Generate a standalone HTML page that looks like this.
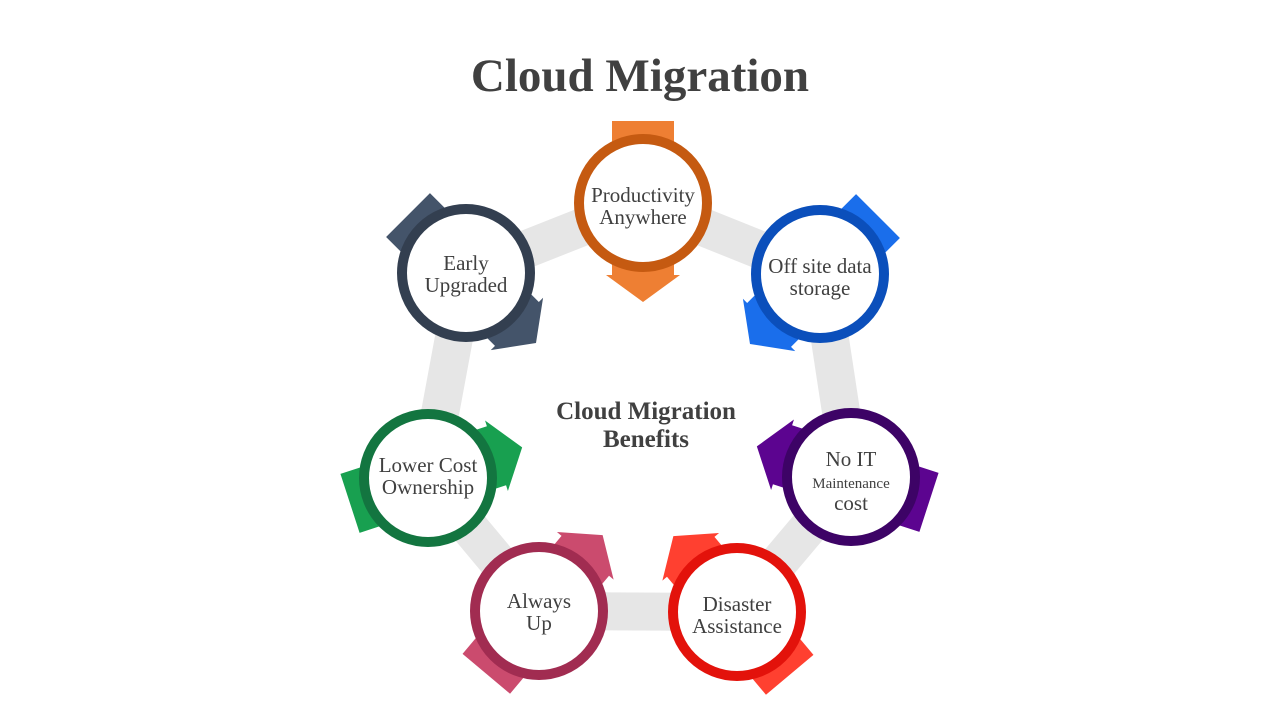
<!DOCTYPE html>
<html><head><meta charset="utf-8"><style>
html,body{margin:0;padding:0;background:#fff;width:1280px;height:720px;overflow:hidden}
</style></head><body>
<svg width="1280" height="720" viewBox="0 0 1280 720" xmlns="http://www.w3.org/2000/svg">
<defs>
<polygon id="arr" points="-82,-31 72,-31 72,-37 99,0 72,37 72,31 -82,31"/>
</defs>
<text x="640" y="91" text-anchor="middle" font-family="Liberation Serif, serif" font-weight="bold" font-size="47" fill="#404040">Cloud Migration</text>
<polygon points="643,203 820,274 851,477 737,612 539,611 428,478 466,273" fill="none" stroke="#E6E6E6" stroke-width="38" stroke-linejoin="round"/>
<text x="646" y="419" text-anchor="middle" font-family="Liberation Serif, serif" font-weight="bold" font-size="25" fill="#404040">Cloud Migration</text>
<text x="646" y="447" text-anchor="middle" font-family="Liberation Serif, serif" font-weight="bold" font-size="25" fill="#404040">Benefits</text>

<g font-family="Liberation Serif, serif" font-size="21" fill="#404040" text-anchor="middle">
<g transform="translate(643,203)"><use href="#arr" transform="rotate(90)" fill="#EE7F33"/><circle r="64" fill="#fff" stroke="#C55A11" stroke-width="10"/><text y="-1">Productivity</text><text y="21">Anywhere</text></g>
<g transform="translate(820,274)"><use href="#arr" transform="rotate(135)" fill="#1A6EEB"/><circle r="64" fill="#fff" stroke="#0B4FBB" stroke-width="10"/><text y="-1">Off site data</text><text y="21">storage</text></g>
<g transform="translate(851,477)"><use href="#arr" transform="rotate(198)" fill="#5C0490"/><circle r="64" fill="#fff" stroke="#3D0366" stroke-width="10"/><text y="-11">No IT</text><text y="11" font-size="15">Maintenance</text><text y="33">cost</text></g>
<g transform="translate(737,612)"><use href="#arr" transform="rotate(230)" fill="#FF4030"/><circle r="64" fill="#fff" stroke="#E3120B" stroke-width="10"/><text y="-1">Disaster</text><text y="21">Assistance</text></g>
<g transform="translate(539,611)"><use href="#arr" transform="rotate(310)" fill="#CB4B6E"/><circle r="64" fill="#fff" stroke="#A12C51" stroke-width="10"/><text y="-3">Always</text><text y="19">Up</text></g>
<g transform="translate(428,478)"><use href="#arr" transform="rotate(342)" fill="#18A050"/><circle r="64" fill="#fff" stroke="#137540" stroke-width="10"/><text y="-6">Lower Cost</text><text y="16">Ownership</text></g>
<g transform="translate(466,273)"><use href="#arr" transform="rotate(45)" fill="#44546A"/><circle r="64" fill="#fff" stroke="#333F50" stroke-width="10"/><text y="-3">Early</text><text y="19">Upgraded</text></g>
</g>
</svg>
</body></html>
